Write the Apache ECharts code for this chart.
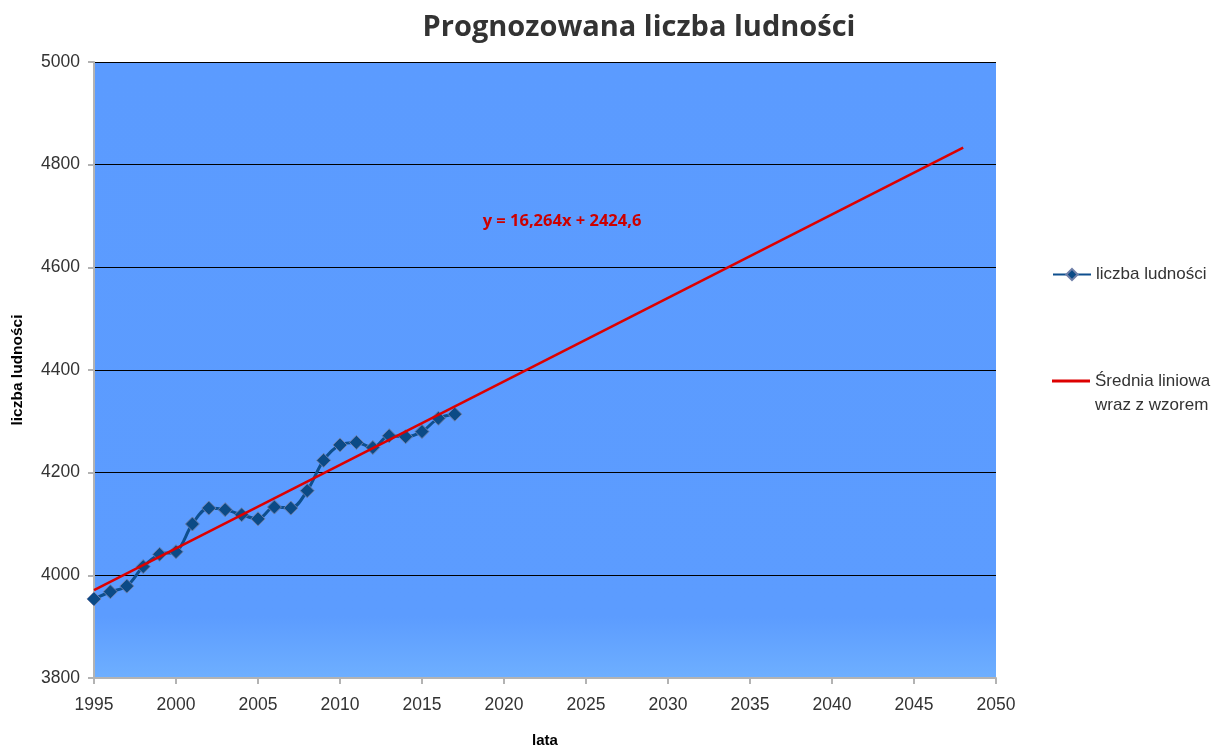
<!DOCTYPE html>
<html>
<head>
<meta charset="utf-8">
<script src="https://cdn.jsdelivr.net/npm/echarts@6/dist/echarts.min.js"></script>
<style>
  html, body { margin: 0; padding: 0; background: #fff; }
  #chart { width: 1221px; height: 746px; }
</style>
</head>
<body>
<div id="chart"></div>
<script>
// dane
var lata = [1995, 1996, 1997, 1998, 1999, 2000, 2001, 2002, 2003, 2004, 2005, 2006,
            2007, 2008, 2009, 2010, 2011, 2012, 2013, 2014, 2015, 2016, 2017];
var ludnosc = [3954, 3968, 3979, 4017, 4041, 4046, 4100, 4131, 4128, 4118, 4110, 4133,
               4131, 4165, 4224, 4254, 4259, 4249, 4272, 4270, 4280, 4306, 4314];
var trendLata = [1995, 2048];
var trendWartosci = [3971, 4833];
var rownanie = 'y = 16,264x + 2424,6';
var nazwaTrendu = 'Średnia liniowa\nwraz z wzorem';

var myChart = echarts.init(document.getElementById('chart'));

var option = {
    backgroundColor: '#ffffff',
    animation: false,
    title: {
        text: 'Prognozowana liczba ludności',
        left: 634,
        top: 8,
        textAlign: 'center',
        textStyle: {
            fontFamily: 'Open Sans',
            fontWeight: 'bold',
            fontSize: 29,
            color: '#333333'
        }
    },
    legend: [
        {
            left: 1052,
            top: 266,
            padding: 0,
            orient: 'vertical',
            itemWidth: 38,
            itemHeight: 14,
            data: ['liczba ludności'],
            textStyle: { fontFamily: 'Liberation Sans', fontSize: 17, color: '#333333' }
        },
        {
            left: 1052,
            top: 345,
            padding: 0,
            orient: 'vertical',
            itemWidth: 38,
            itemHeight: 3,
            data: [{ name: nazwaTrendu, icon: 'rect' }],
            // pusta pierwsza linia, aby kreska stała przy pierwszym wierszu
            formatter: function (name) { return '\n' + name; },
            textStyle: {
                fontFamily: 'Liberation Sans', fontSize: 17, color: '#333333', lineHeight: 24
            }
        }
    ],
    grid: {
        left: 94,
        right: 225,
        top: 62,
        bottom: 68,
        outerBoundsMode: 'none',
        show: true,
        borderWidth: 0,
        backgroundColor: {
            type: 'linear', x: 0, y: 0, x2: 0, y2: 1,
            colorStops: [
                { offset: 0, color: '#5B9BFF' },
                { offset: 0.9, color: '#5C9CFF' },
                { offset: 1, color: '#6EAFFF' }
            ]
        }
    },
    xAxis: {
        type: 'value',
        min: 1995,
        max: 2050,
        interval: 5,
        name: 'lata',
        nameLocation: 'middle',
        nameGap: 55,
        nameTextStyle: { fontFamily: 'Liberation Sans', fontWeight: 'bold', fontSize: 15, color: '#000' },
        axisLine: { show: true, lineStyle: { color: '#b3b3b3', width: 2 } },
        axisTick: { show: true, length: 6, lineStyle: { color: '#b3b3b3', width: 2 } },
        axisLabel: {
            fontFamily: 'Liberation Sans', fontSize: 17.5, color: '#333333', margin: 18,
            formatter: function (v) { return String(v); }
        },
        splitLine: { show: false }
    },
    yAxis: {
        type: 'value',
        min: 3800,
        max: 5000,
        interval: 200,
        name: 'liczba ludności',
        nameLocation: 'middle',
        nameGap: 68,
        nameRotate: 90,
        nameTextStyle: { fontFamily: 'Liberation Sans', fontWeight: 'bold', fontSize: 15.5, color: '#000' },
        axisLine: { show: true, lineStyle: { color: '#b3b3b3', width: 2 } },
        axisTick: { show: true, length: 6, lineStyle: { color: '#b3b3b3', width: 2 } },
        axisLabel: {
            fontFamily: 'Liberation Sans', fontSize: 17.5, color: '#333333', margin: 14,
            formatter: function (v) { return String(v); }
        },
        splitLine: { show: true, lineStyle: { color: '#000000', width: 1 } }
    },
    series: [
        {
            name: 'liczba ludności',
            type: 'line',
            smooth: 0.35,
            data: lata.map(function (r, i) { return [r, ludnosc[i]]; }),
            symbol: 'diamond',
            symbolSize: 14,
            lineStyle: { color: '#0E4F8E', width: 3 },
            itemStyle: { color: '#0B4A86', borderColor: '#6f7fa8', borderWidth: 1 },
            z: 3
        },
        {
            name: nazwaTrendu,
            type: 'line',
            data: trendLata.map(function (r, i) { return [r, trendWartosci[i]]; }),
            symbol: 'none',
            lineStyle: { color: '#DD0000', width: 2.5 },
            itemStyle: { color: '#DD0000' },
            z: 4,
            markPoint: {
                symbol: 'rect',
                symbolSize: 1,
                itemStyle: { color: 'transparent' },
                label: {
                    show: true,
                    formatter: rownanie,
                    fontFamily: 'Open Sans',
                    fontWeight: 'bold',
                    fontSize: 16.5,
                    color: '#CC0000'
                },
                data: [{ x: 562, y: 221 }]
            }
        }
    ]
};

myChart.setOption(option);
</script>
</body>
</html>
